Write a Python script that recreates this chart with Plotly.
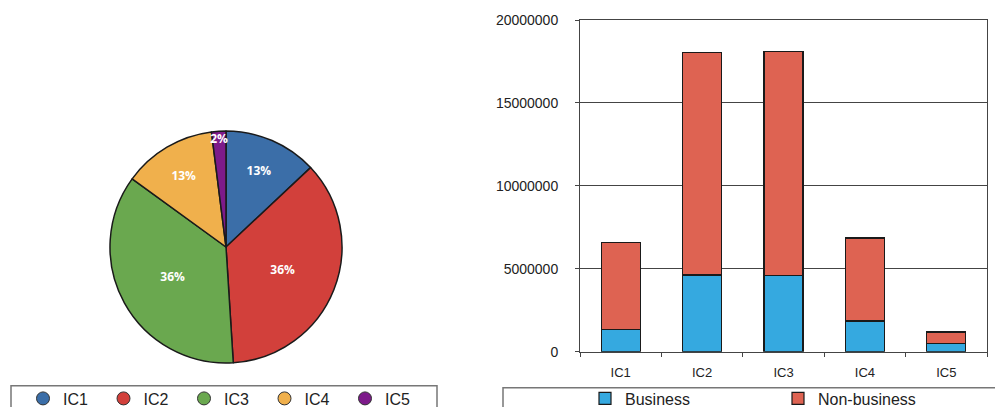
import plotly.graph_objects as go

categories = ["IC1", "IC2", "IC3", "IC4", "IC5"]
pie_share = [13, 36, 36, 13, 2]
business = [1350000, 4620000, 4580000, 1850000, 500000]
total = [6570000, 18050000, 18110000, 6860000, 1190000]
non_business = [t - b for t, b in zip(total, business)]
y_ticks = [0, 5000000, 10000000, 15000000, 20000000]

pie_colors = ["#3b6ea8", "#d2403b", "#6aa84f", "#f0b04c", "#7d1a8a"]
bus_color = "#35a9e0"
non_color = "#de6352"
FONT = "Liberation Sans"

# the page body has an 8px margin, so the figure starts at (8, 8) in the window
OFF = 8
W, H = 1003 - OFF, 407 - OFF
def px(x):
    return (x - OFF) / W
def py(y):
    return (H - (y - OFF)) / H

fig = go.Figure()

fig.add_trace(go.Pie(
    labels=categories, values=pie_share, sort=False, direction="clockwise",
    rotation=0, marker=dict(colors=pie_colors, line=dict(color="#1a1a1a", width=1.5)),
    textinfo="percent", textposition="inside", insidetextorientation="horizontal",
    textfont=dict(family="Open Sans", size=12, color="white", weight="bold"),
    domain=dict(x=[px(110), px(342)], y=[py(363), py(131)]),
    showlegend=False, hoverinfo="label+percent", automargin=False,
))

# legend entries for the pie (circle symbols)
for name, col in zip(categories, pie_colors):
    fig.add_trace(go.Scatter(
        x=[None], y=[None], mode="markers", name=name,
        marker=dict(symbol="circle", size=13, color=col, line=dict(color="#333", width=1)),
        legend="legend", showlegend=True, xaxis="x", yaxis="y",
    ))

fig.add_trace(go.Bar(
    x=categories, y=business, name="Business",
    marker=dict(color=bus_color, line=dict(color="#1a1a1a", width=1.2)),
    legend="legend2",
))
fig.add_trace(go.Bar(
    x=categories, y=non_business, name="Non-business",
    marker=dict(color=non_color, line=dict(color="#1a1a1a", width=1.2)),
    legend="legend2",
))

fig.update_layout(
    width=W, height=H, autosize=False,
    margin=dict(l=0, r=0, t=0, b=0, autoexpand=False),
    paper_bgcolor="white", plot_bgcolor="white",
    barmode="stack", bargap=0.52,
    font=dict(family=FONT, color="#222"),
    uniformtext=dict(minsize=12, mode="show"),
    xaxis=dict(
        domain=[px(580), px(987)], type="category", automargin=False,
        showline=True, linecolor="#444", linewidth=1, mirror=True,
        ticks="outside", tickson="boundaries", ticklen=4, tickcolor="#444",
        tickfont=dict(size=13, color="#222"), ticklabelstandoff=9, showgrid=False,
    ),
    yaxis=dict(
        domain=[py(351.7), py(20)], range=[0, 20000000], automargin=False,
        tickvals=y_ticks, tickformat="d",
        showline=True, linecolor="#444", linewidth=1, mirror=True,
        showgrid=True, gridcolor="#444", gridwidth=1,
        ticks="outside", ticklen=4, tickcolor="#444",
        tickfont=dict(size=14, color="#222"), ticklabelstandoff=14,
        zeroline=False,
    ),
    legend=dict(
        orientation="h", xref="container", yref="container",
        x=px(23), xanchor="left", y=py(381.5), yanchor="top",
        font=dict(size=16, family=FONT, color="#222"),
        entrywidth=35.5, bgcolor="rgba(0,0,0,0)", borderwidth=0,
    ),
    legend2=dict(
        orientation="h", xref="container", yref="container", traceorder="normal",
        x=px(585), xanchor="left", y=py(381.5), yanchor="top",
        font=dict(size=16, family=FONT, color="#222"),
        entrywidth=148, bgcolor="rgba(0,0,0,0)", borderwidth=0,
    ),
    shapes=[
        dict(type="rect", xref="paper", yref="paper",
             x0=px(11), x1=px(437), y0=py(420), y1=py(385.7),
             line=dict(color="#777", width=1.5), layer="below"),
        dict(type="rect", xref="paper", yref="paper",
             x0=px(503), x1=px(1020), y0=py(420), y1=py(387.7),
             line=dict(color="#777", width=1.5), layer="below"),
    ],
)

fig.write_html("out.html")
